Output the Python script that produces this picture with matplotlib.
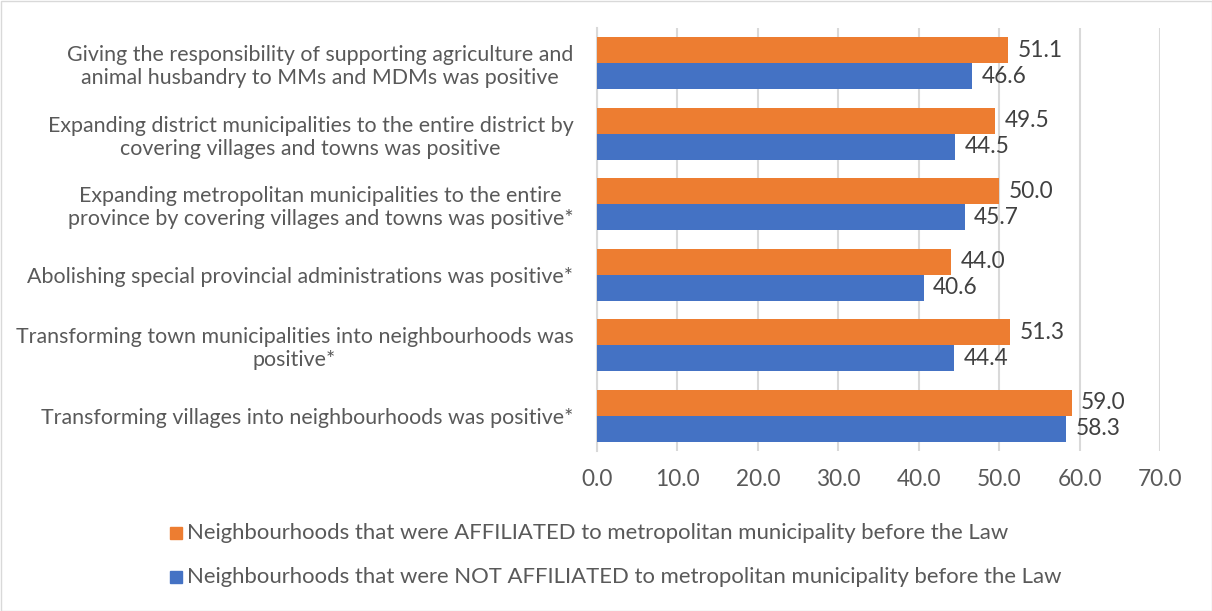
import matplotlib
matplotlib.use("Agg")
import matplotlib.pyplot as plt
from matplotlib.patches import Rectangle

categories = [
    "Giving the responsibility of supporting agriculture and\nanimal husbandry to MMs and MDMs was positive",
    "Expanding district municipalities to the entire district by\ncovering villages and towns was positive",
    "Expanding metropolitan municipalities to the entire\nprovince by covering villages and towns was positive*",
    "Abolishing special provincial administrations was positive*",
    "Transforming town municipalities into neighbourhoods was\npositive*",
    "Transforming villages into neighbourhoods was positive*",
]
affiliated = [51.1, 49.5, 50.0, 44.0, 51.3, 59.0]
not_affiliated = [46.6, 44.5, 45.7, 40.6, 44.4, 58.3]
series_names = [
    "Neighbourhoods that were AFFILIATED to metropolitan municipality before the Law",
    "Neighbourhoods that were NOT AFFILIATED to metropolitan municipality before the Law",
]
xticks = [0, 10, 20, 30, 40, 50, 60, 70]

plt.rcParams["font.family"] = ["Lato", "DejaVu Sans"]

ORANGE = "#ED7D31"
BLUE = "#4472C4"
TEXT = "#595959"
GRID = "#D9D9D9"
FS_CAT = 15.4
FS_NUM = 16.3
FS_LEG = 15.9

fig = plt.figure(figsize=(12.12, 6.11), dpi=100)
W, H = 1212, 611
ax = fig.add_axes([597 / W, 1 - 451 / H, (1160 - 597) / W, (451 - 28) / H])

n = len(categories)
h = 0.37
for i in range(n):
    y = n - 1 - i
    ax.barh(y + h / 2, affiliated[i], height=h, color=ORANGE, zorder=3)
    ax.barh(y - h / 2, not_affiliated[i], height=h, color=BLUE, zorder=3)
    ax.text(affiliated[i] + 1.2, y + h / 2, f"{affiliated[i]:.1f}", va="center", ha="left",
            fontsize=FS_NUM, color="#404040")
    ax.text(not_affiliated[i] + 1.2, y - h / 2, f"{not_affiliated[i]:.1f}", va="center", ha="left",
            fontsize=FS_NUM, color="#404040")

ax.set_xlim(0, 70)
ax.set_ylim(-0.5, n - 0.5)
ax.set_xticks(xticks)
ax.set_xticklabels([f"{t:.1f}" for t in xticks], fontsize=FS_NUM, color=TEXT)
ax.set_yticks(range(n))
ax.set_yticklabels(categories[::-1], fontsize=FS_CAT, color=TEXT, multialignment="center")
ax.tick_params(axis="both", length=0)
ax.tick_params(axis="x", pad=13)
ax.tick_params(axis="y", pad=17)
ax.grid(axis="x", color=GRID, linewidth=1.5, zorder=0)
for s in ["top", "right", "bottom"]:
    ax.spines[s].set_visible(False)
ax.spines["left"].set_color(GRID)
ax.spines["left"].set_linewidth(1.5)

# legend
for k, (name, col) in enumerate(zip(series_names, [ORANGE, BLUE])):
    yc = 533 + k * 44
    fig.patches.append(Rectangle((170 / W, 1 - (yc + 6) / H), 12 / W, 12 / H,
                                 transform=fig.transFigure, color=col))
    fig.text(187 / W, 1 - yc / H, name, fontsize=FS_LEG, color=TEXT, va="center", ha="left")

# outer border
fig.patches.append(Rectangle((0.5 / W, 0.5 / H), (W - 1) / W, (H - 1) / H, transform=fig.transFigure,
                             fill=False, edgecolor=GRID, linewidth=1))

fig.savefig("out.png", dpi=100)
